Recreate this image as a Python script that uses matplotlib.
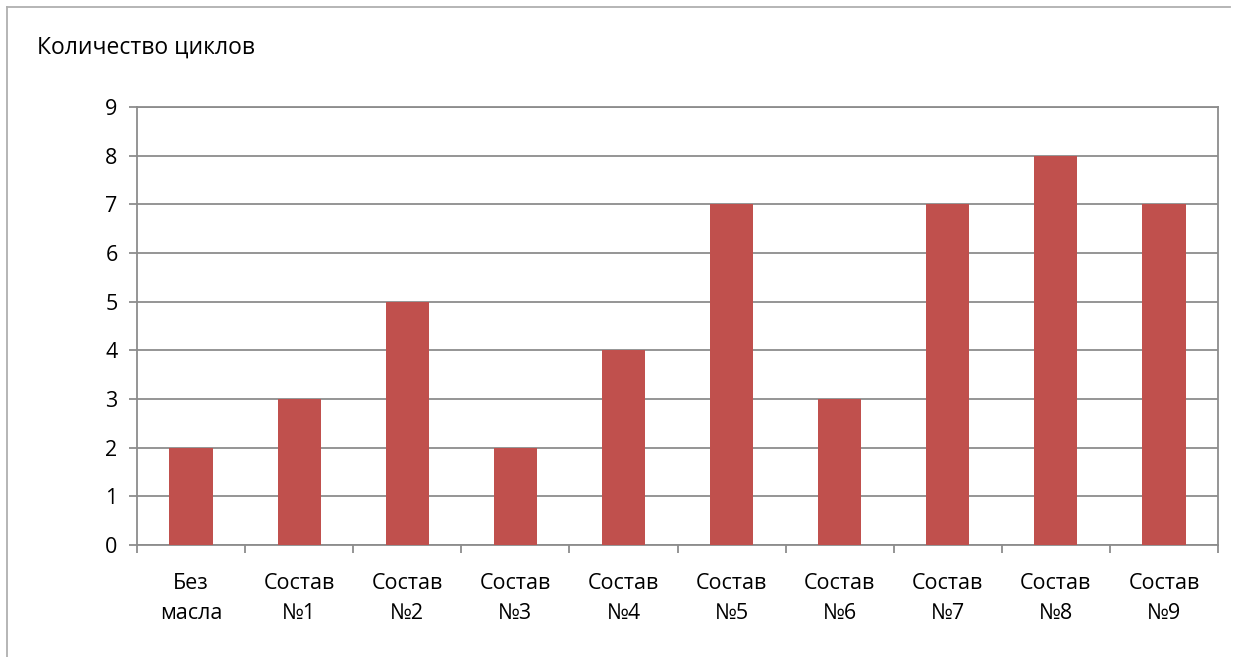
import matplotlib
matplotlib.use("Agg")
import matplotlib.pyplot as plt
from matplotlib.lines import Line2D

plt.rcParams['font.family'] = ['Open Sans', 'DejaVu Sans']

labels = ['Без\nмасла', 'Состав\n№1', 'Состав\n№2', 'Состав\n№3', 'Состав\n№4',
          'Состав\n№5', 'Состав\n№6', 'Состав\n№7', 'Состав\n№8', 'Состав\n№9']
cycles = [2, 3, 5, 2, 4, 7, 3, 7, 8, 7]

grid_col = '#8c8c8c'

fig = plt.figure(figsize=(12.38, 6.57), dpi=100)
ax = fig.add_axes([137 / 1238, 1 - 545 / 657, 1081 / 1238, 438 / 657])

x = list(range(len(cycles)))
ax.bar(x, cycles, width=0.4, color='#C0504D', zorder=3)

ax.set_xlim(-0.5, len(cycles) - 0.5)
ax.set_ylim(0, 9)
ax.set_yticks(range(10))
ax.yaxis.grid(True, color=grid_col, linewidth=1.3, zorder=0)

# category labels sit between boundary ticks
ax.set_xticks(x)
ax.set_xticklabels(labels, fontsize=15.5, linespacing=1.55)
ax.tick_params(axis='x', length=0, pad=20)
ax.set_xticks([i - 0.5 for i in range(len(cycles) + 1)], minor=True)
ax.tick_params(axis='x', which='minor', length=6, width=1.3, color=grid_col)
ax.tick_params(axis='y', length=6, width=1.3, color=grid_col, labelsize=15.5, pad=8)

for s in ax.spines.values():
    s.set_color(grid_col)
    s.set_linewidth(1.3)

fig.text(37 / 1238, 1 - 48 / 657, 'Количество циклов', fontsize=16.5, va='center', ha='left')

# chart area frame
fig.add_artist(Line2D([7 / 1238, 7 / 1238], [0, 1 - 7 / 657], color='#b0b0b0', linewidth=1.3))
fig.add_artist(Line2D([7 / 1238, 1230 / 1238], [1 - 7 / 657, 1 - 7 / 657], color='#b0b0b0', linewidth=1.3))

fig.savefig('out.png', dpi=100)
